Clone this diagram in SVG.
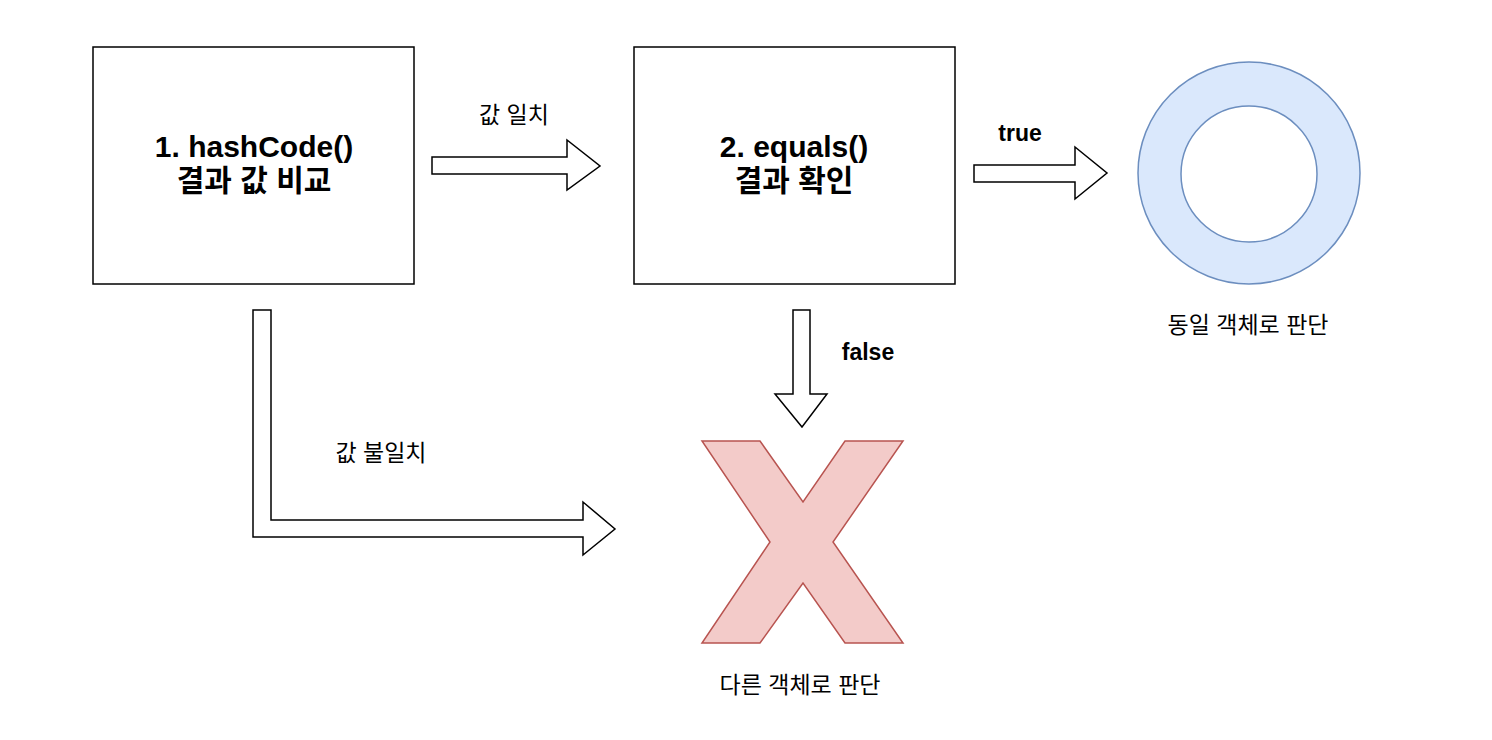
<svg xmlns="http://www.w3.org/2000/svg" width="1492" height="740" viewBox="0 0 1492 740">
<style>
.box{fill:#fff;stroke:#000;stroke-width:1.5}
.arr{fill:#fff;stroke:#000;stroke-width:1.5;stroke-linejoin:miter}
.t{font-family:"Liberation Sans","Noto Sans CJK KR",sans-serif;fill:#000}
.big{font-size:30px;font-weight:bold}
.lbl{font-size:23px}
.b{font-weight:bold}
</style>
<rect width="1492" height="740" fill="#fff"/>
<g id="node-hash">
<rect class="box" x="93" y="47" width="321" height="237"/>
<text class="t big" x="254" y="157" text-anchor="middle">1. hashCode()</text>
<text class="t big" x="254" y="191" text-anchor="middle">결과 값 비교</text>
</g>
<g id="node-equals">
<rect class="box" x="634" y="47" width="321" height="237"/>
<text class="t big" x="794" y="157" text-anchor="middle">2. equals()</text>
<text class="t big" x="794" y="191" text-anchor="middle">결과 확인</text>
</g>
<g id="node-same">
<circle cx="1249" cy="173" r="111" fill="#dae8fc" stroke="#6c8ebf" stroke-width="1.5"/>
<circle cx="1249" cy="174" r="68" fill="#fff" stroke="#6c8ebf" stroke-width="1.5"/>
<text class="t lbl" x="1248" y="333" text-anchor="middle">동일 객체로 판단</text>
</g>
<g id="node-diff">
<polygon points="702,441 760,441 803,502 845,441 903,441 833,542 903,643 845,643 803,583 760,643 702,643 770,542" fill="#f3cbc9" stroke="#b85450" stroke-width="1.5"/>
<text class="t lbl" x="800" y="693" text-anchor="middle">다른 객체로 판단</text>
</g>
<g id="connectors">
<polygon class="arr" points="432,157 567,157 567,140 600,166 567,190 567,174 432,174"/>
<text class="t lbl" x="514" y="123" text-anchor="middle">값 일치</text>
<polygon class="arr" points="974,165 1075,165 1075,147 1107,173 1075,199 1075,182 974,182"/>
<text class="t lbl b" x="1020" y="141" text-anchor="middle">true</text>
<polygon class="arr" points="793,310 810,310 810,394 827,394 802,427 775,394 793,394"/>
<text class="t lbl b" x="868" y="360" text-anchor="middle">false</text>
<polygon class="arr" points="253,310 271,310 271,520 583,520 583,502 615,529 583,555 583,537 253,537"/>
<text class="t lbl" x="381" y="461" text-anchor="middle">값 불일치</text>
</g>
</svg>
